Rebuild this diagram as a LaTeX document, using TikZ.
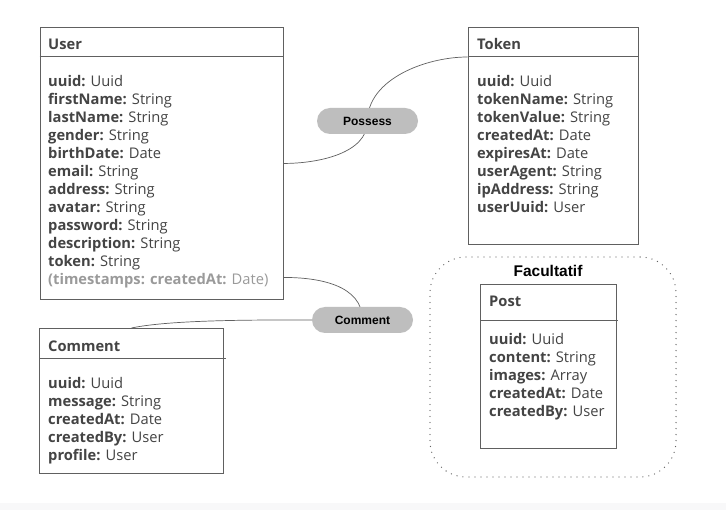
\documentclass[tikz,border=0pt]{standalone}
\usepackage{fontspec}
\setmainfont{Open Sans}
\newfontfamily\labelfont{Liberation Sans}
\usetikzlibrary{backgrounds}

\definecolor{ink}{HTML}{444444}
\definecolor{faded}{HTML}{9A9A9A}
\definecolor{frame}{HTML}{606060}
\definecolor{pillgray}{HTML}{BEBEBE}
\definecolor{strip}{HTML}{F8F8F9}

% one attribute line: bold name, regular type
\newcommand{\fld}[2]{\textbf{#1:} #2}

\tikzset{
  entity/.style={draw=frame, line width=0.9pt, fill=white, inner sep=0pt,
                 anchor=north west},
  headline/.style={draw=frame, line width=0.9pt},
  etitle/.style={anchor=base west, inner sep=0pt, text=ink,
                 font=\fontsize{14.7}{18}\selectfont\bfseries},
  % anchored at the baseline of the last line
  fields/.style={anchor=base west, inner sep=0pt, text=ink, align=left,
                 font=\fontsize{14.7}{18}\selectfont},
  pill/.style={fill=pillgray, rounded corners=13pt, minimum width=101pt,
               minimum height=26pt, inner sep=0pt,
               font=\labelfont\fontsize{12}{14}\selectfont\bfseries},
  link/.style={draw=frame, line width=0.7pt},
  optional/.style={draw=frame, line width=1.3pt, line cap=round,
                   dash pattern=on 0pt off 6pt, rounded corners=36pt,
                   inner sep=0pt}
}

\begin{document}
\begin{tikzpicture}[x=1pt, y=-1pt]
  \useasboundingbox (0,0) rectangle (726,510);
  \begin{scope}[on background layer]
    \fill[white] (0,0) rectangle (726,510);
    \fill[strip] (0,503) rectangle (726,510);
  \end{scope}

  % ---- User ----
  \node[entity, minimum width=243.5pt, minimum height=272pt] (user) at (39.5,27) {};
  \draw[headline] ([yshift=-29pt]user.north west) -- ([yshift=-29pt]user.north east);
  \node[etitle] (usertitle) at (48,50) {User};
  \node[fields] (userfields) at (48,284.5) {%
    \fld{uuid}{Uuid}\\
    \fld{firstName}{String}\\
    \fld{lastName}{String}\\
    \fld{gender}{String}\\
    \fld{birthDate}{Date}\\
    \fld{email}{String}\\
    \fld{address}{String}\\
    \fld{avatar}{String}\\
    \fld{password}{String}\\
    \fld{description}{String}\\
    \fld{token}{String}\\
    \textcolor{faded}{\textbf{(timestamps: createdAt:} Date)}};

  % ---- Token ----
  \node[entity, minimum width=170.5pt, minimum height=217pt] (token) at (467.5,27) {};
  \draw[headline] ([yshift=-29pt]token.north west) -- ([yshift=-29pt]token.north east);
  \coordinate (tokenport) at ([yshift=-30pt]token.north west);
  \node[etitle] (tokentitle) at (477,50) {Token};
  \node[fields] (tokenfields) at (477,212.5) {%
    \fld{uuid}{Uuid}\\
    \fld{tokenName}{String}\\
    \fld{tokenValue}{String}\\
    \fld{createdAt}{Date}\\
    \fld{expiresAt}{Date}\\
    \fld{userAgent}{String}\\
    \fld{ipAddress}{String}\\
    \fld{userUuid}{User}};

  % ---- Comment ----
  \node[entity, minimum width=184pt, minimum height=145pt] (comment) at (39,328) {};
  \draw[headline] ([yshift=-30pt]comment.north west) -- ([yshift=-30pt,xshift=2pt]comment.north east);
  \node[etitle] (commenttitle) at (48,352) {Comment};
  \node[fields] (commentfields) at (48,460.5) {%
    \fld{uuid}{Uuid}\\
    \fld{message}{String}\\
    \fld{createdAt}{Date}\\
    \fld{createdBy}{User}\\
    \fld{profile}{User}};

  % ---- optional group with Post ----
  \node[optional, minimum width=246pt, minimum height=220pt] (optgroup) at (553,367) {};
  \node[font=\labelfont\fontsize{15.5}{18}\selectfont\bfseries, inner sep=0pt]
    (optlabel) at (548,271) {Facultatif};
  \node[entity, minimum width=136pt, minimum height=164pt] (post) at (480,284) {};
  \draw[headline] ([yshift=-36pt]post.north west) -- ([yshift=-36pt,xshift=1pt]post.north east);
  \node[etitle] (posttitle) at (489,307) {Post};
  \node[fields] (postfields) at (489,416.5) {%
    \fld{uuid}{Uuid}\\
    \fld{content}{String}\\
    \fld{images}{Array}\\
    \fld{createdAt}{Date}\\
    \fld{createdBy}{User}};

  % ---- relations ----
  \node[pill] (possess) at (367.5,121) {Possess};
  \node[pill] (commentrel) at (362.5,320) {Comment};
  \coordinate (userlow) at ([yshift=-114pt]user.east);

  % connectors run behind the pills
  \begin{scope}[on background layer]
    \draw[link] (user.east) to[out=0, in=-90, looseness=0.9] (possess.center)
                to[out=90, in=180, looseness=0.9] (tokenport);
    \draw[link] (userlow) to[out=0, in=90] (commentrel.center);
    \draw[link] (commentrel.center) -- (commentrel.west)
                to[out=180, in=12, looseness=0.6] (comment.north);
  \end{scope}
\end{tikzpicture}
\end{document}
